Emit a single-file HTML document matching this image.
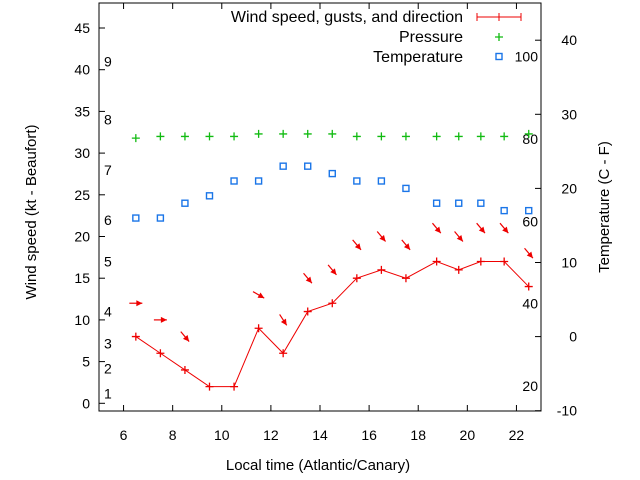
<!DOCTYPE html>
<html><head><meta charset="utf-8"><style>
html,body{margin:0;padding:0;background:#fff}
svg{display:block;font-family:"Liberation Sans",sans-serif}
</style></head><body>
<svg id="c" width="640" height="480" viewBox="0 0 640 480">
<rect x="0" y="0" width="640" height="480" fill="#fff"/>
<g id="grid"></g>
<g id="marks"></g>
<text x="36" y="212" transform="rotate(-90 36 212)" text-anchor="middle" font-size="15">Wind speed (kt - Beaufort)</text>
<text x="609" y="207" transform="rotate(-90 609 207)" text-anchor="middle" font-size="15">Temperature (C - F)</text>
<text x="318" y="470" text-anchor="middle" font-size="15">Local time (Atlantic/Canary)</text>
<g>
<text x="463" y="22" text-anchor="end" font-size="16">Wind speed, gusts, and direction</text>
<line x1="477" y1="17" x2="521" y2="17" stroke="#e00" stroke-width="1"/>
<line x1="477" y1="13" x2="477" y2="21" stroke="#e00"/><line x1="521" y1="13" x2="521" y2="21" stroke="#e00"/>
<line x1="495" y1="17" x2="503" y2="17" stroke="#e00"/><line x1="499" y1="13" x2="499" y2="21" stroke="#e00"/>
<text x="463" y="42" text-anchor="end" font-size="16">Pressure</text>
<path d="M495 37h8M499 33v8" stroke="#1b1" stroke-width="1.3"/>
<text x="463" y="62" text-anchor="end" font-size="16">Temperature</text>
<rect x="496" y="53.5" width="6" height="6" fill="none" stroke="#1a75e8" stroke-width="1.4"/>
</g>
</svg>
<script>
const times=[6.5,7.5,8.5,9.5,10.5,11.5,12.5,13.5,14.5,15.5,16.5,17.5,18.75,19.65,20.55,21.5,22.5];
const wind=[8,6,4,2,2,9,6,11,12,15,16,15,17,16,17,17,14];
const gusts=[12,10,8,null,null,13,10,15,16,19,20,19,21,20,21,21,18];
const dirAngles=[0,0,50,null,null,30,57,50,50,50,50,50,50,50,50,50,50];
const pressure=[31.8,32,32,32,32,32.3,32.3,32.3,32.3,32,32,32,32,32,32,32,32.3];
const temps=[16,16,18,19,21,21,23,23,22,21,21,20,18,18,18,17,17];
const xTicks=[6,8,10,12,14,16,18,20,22];
const leftTicks=[0,5,10,15,20,25,30,35,40,45];
const rightTicks=[-10,0,10,20,30,40];
const beaufortLabels=["1","2","3","4","5","6","7","8","9"];
const beaufortPos=[1.2,4.2,7.2,11,17,22,28,34,41];
const fLabels=[20,40,60,80,100];

const L=99,R=541,T=3,B=411;
const xs=t=>L+(t-5)*(R-L)/18;
const yl=v=>403.3-v*8.34;
const yr=c=>410.7-(c+10)*7.41;
const NS="http://www.w3.org/2000/svg";
const g=document.getElementById('grid'), m=document.getElementById('marks');
function mk(tag,at,par){const e=document.createElementNS(NS,tag);for(const k in at)e.setAttribute(k,at[k]);(par||g).appendChild(e);return e;}

const frame=mk('rect',{x:L,y:T,width:R-L,height:B-T,fill:'none',stroke:'#000','stroke-width':1});



xTicks.forEach(t=>{
  const x=xs(t);
  mk('line',{x1:x,y1:B,x2:x,y2:B-6,stroke:'#000'});
  mk('line',{x1:x,y1:T,x2:x,y2:T+6,stroke:'#000'});
  const tx=mk('text',{x:x,y:440,'text-anchor':'middle','font-size':14});
  tx.textContent=t;
  
  
});
leftTicks.forEach(v=>{
  const y=yl(v);
  mk('line',{x1:L,y1:y,x2:L+6,y2:y,stroke:'#000'});
  const tx=mk('text',{x:L-9,y:y+5,'text-anchor':'end','font-size':14});
  tx.textContent=v;
  
  
});
rightTicks.forEach(v=>{
  const y=yr(v);
  mk('line',{x1:R,y1:y,x2:R-6,y2:y,stroke:'#000'});
  const tx=mk('text',{x:R+36,y:y+5,'text-anchor':'end','font-size':14});
  tx.textContent=v;
  
  
});
beaufortLabels.forEach((s,i)=>{
  const tx=mk('text',{x:104,y:yl(beaufortPos[i])+5,'font-size':14});
  tx.textContent=s;
  
  
});
fLabels.forEach(f=>{
  const c=(f-32)*5/9;
  const tx=mk('text',{x:538,y:yr(c)+5,'text-anchor':'end','font-size':14});
  tx.textContent=f;
  
  
});

const pts=times.map((t,i)=>xs(t)+','+yl(wind[i])).join(' ');
const pl=mk('polyline',{points:pts,fill:'none',stroke:'#e00','stroke-width':1},m);


times.forEach((t,i)=>{
  const x=xs(t),y=yl(wind[i]);
  const p=mk('path',{d:`M${x-4} ${y}h8M${x} ${y-4}v8`,stroke:'#e00','stroke-width':1.3},m);
  
  
});
times.forEach((t,i)=>{
  if(gusts[i]==null)return;
  const x=xs(t),y=yl(gusts[i]),a=dirAngles[i]*Math.PI/180;
  const len=13,dx=Math.cos(a),dy=Math.sin(a);
  const x1=x-dx*len/2,y1=y-dy*len/2,x2=x+dx*len/2,y2=y+dy*len/2;
  const gr=mk('g',{},m);
  
  
  mk('line',{x1:x1,y1:y1,x2:x2,y2:y2,stroke:'#e00','stroke-width':1.2},gr);
  const hx=x2-dx*6,hy=y2-dy*6,px=-dy*3,py=dx*3;
  mk('polygon',{points:`${x2},${y2} ${hx+px},${hy+py} ${hx-px},${hy-py}`,fill:'#e00'},gr);
});
times.forEach((t,i)=>{
  const x=xs(t),y=yl(pressure[i]);
  const p=mk('path',{d:`M${x-4} ${y}h8M${x} ${y-4}v8`,stroke:'#1b1','stroke-width':1.3},m);
  
  
});
times.forEach((t,i)=>{
  const x=xs(t),y=yr(temps[i]);
  const r=mk('rect',{x:x-3,y:y-3,width:6,height:6,fill:'none',stroke:'#1a75e8','stroke-width':1.4},m);
  
  
});
</script>
</body></html>
